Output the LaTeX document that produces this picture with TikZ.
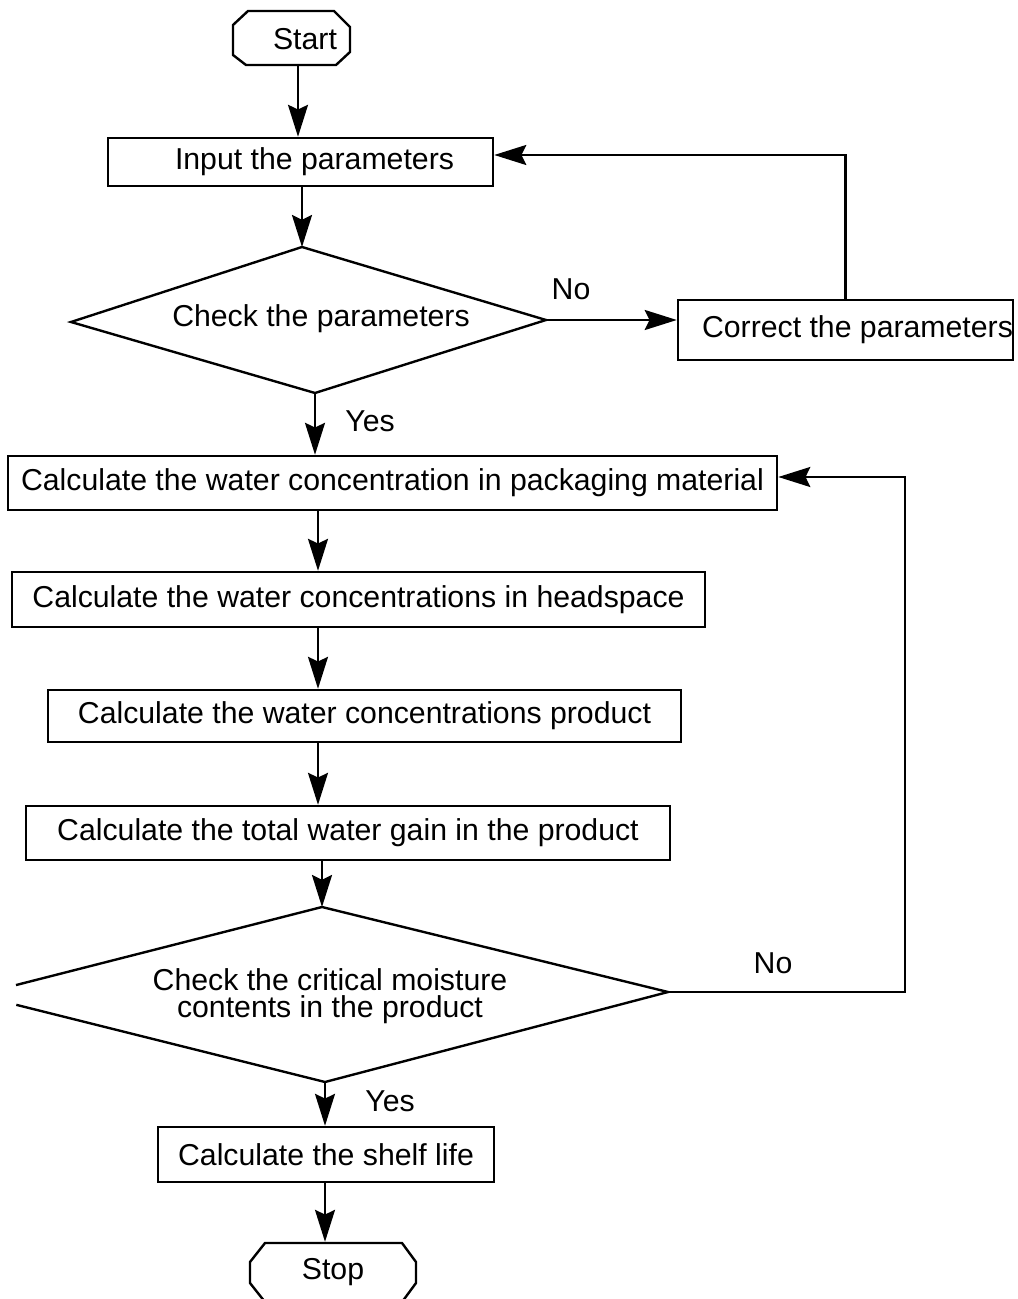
\documentclass[tikz,border=0pt]{standalone}
\usepackage{fontspec}
\setmainfont{Liberation Sans}
\usetikzlibrary{arrows.meta,calc}
\begin{document}
\begin{tikzpicture}[x=0.025cm,y=-0.025cm, line width=1.7pt, line join=miter,
  >={Stealth[length=0.8cm,width=0.5cm,inset=0.12cm]},
  box/.style={draw,rectangle,inner sep=0pt},
  txt/.style={font=\fontsize{21.5}{19}\selectfont},
  lbl/.style={font=\fontsize{21.5}{22}\selectfont,inner sep=0pt}]
\useasboundingbox (0,0) rectangle (1017,1299);
% start
\draw (233,25) -- (248,11) -- (334,11) -- (350,27) -- (350,52) -- (336,65) -- (246,65) -- (233,55) -- cycle;
\node[minimum width=2.925cm,minimum height=1.35cm,inner sep=0pt] (start) at (291.5,38) {};
\node[txt,inner sep=0pt] (starttxt) at (305,39) {Start};
% input
\node[box,minimum width=9.625cm,minimum height=1.2cm,
  label={[txt,xshift=0.35cm]center:Input the parameters}] (inp) at (300.5,162) {};
% diamond 1
\coordinate (d1t) at (302,247);
\coordinate (d1r) at (546,320);
\coordinate (d1b) at (315,393);
\coordinate (d1l) at (71,322);
\draw (d1t) -- (d1r) -- (d1b) -- (d1l) -- cycle;
\node[txt,inner sep=0pt] (d1txt) at (321,319) {Check the parameters};
% correct
\node[box,minimum width=8.375cm,minimum height=1.5cm,
  label={[txt,xshift=0.3cm]center:Correct the parameters}] (cor) at (845.5,330) {};
% calc boxes
\node[box,txt,minimum width=19.225cm,minimum height=1.35cm] (c1) at (392.5,483) {Calculate the water concentration in packaging material};
\node[box,txt,minimum width=17.325cm,minimum height=1.375cm] (c2) at (358.5,599.5) {Calculate the water concentrations in headspace};
\node[box,txt,minimum width=15.825cm,minimum height=1.3cm] (c3) at (364.5,716) {Calculate the water concentrations product};
\node[box,txt,minimum width=16.1cm,minimum height=1.35cm] (c4) at (348,833) {Calculate the total water gain in the product};
% diamond 2
\coordinate (d2t) at (322,907);
\coordinate (d2r) at (668,992);
\coordinate (d2b) at (325,1082);
\coordinate (d2l) at (-23,995);
\draw ($(d2t)!0.887!(d2l)$) -- (d2t) -- (d2r) -- (d2b) -- ($(d2b)!0.887!(d2l)$);
\node[txt,inner sep=0pt,align=center] (d2txt) at (330,996) {Check the critical moisture\\contents in the product};
% shelf
\node[box,txt,minimum width=8.4cm,minimum height=1.375cm] (shelf) at (326,1154.5) {Calculate the shelf life};
% stop
\draw (265,1243) -- (402,1243) -- (416,1262) -- (416,1283) -- (402,1302) -- (265,1302) -- (250,1283) -- (250,1262) -- cycle;
\node[minimum width=4.15cm,minimum height=1.475cm,inner sep=0pt] (stop) at (333,1272.5) {};
\node[txt,inner sep=0pt] (stoptxt) at (333,1272) {Stop};
% columns
\coordinate (colS) at (298,0);
\coordinate (colI) at (302,0);
\coordinate (colA) at (318,0);
\coordinate (colB) at (322,0);
\coordinate (colC) at (325,0);
\coordinate (fbTop) at (0,155);
\coordinate (fbMid) at (0,477);
\coordinate (xR) at (905,0);
% connectors
\draw[->] (colS |- start.south) -- (colS |- inp.north);
\draw[->] (colI |- inp.south) -- (d1t);
\draw[->] (d1r) -- (d1r -| cor.west);
\draw[->] (cor.north) -- (cor.north |- fbTop) -- (inp.east |- fbTop);
\draw[->] (d1b) -- (d1b |- c1.north);
\draw[->] (colA |- c1.south) -- (colA |- c2.north);
\draw[->] (colA |- c2.south) -- (colA |- c3.north);
\draw[->] (colA |- c3.south) -- (colA |- c4.north);
\draw[->] (colB |- c4.south) -- (d2t);
\draw[->] (d2r) -- (d2r -| xR) -- (xR |- fbMid) -- (c1.east |- fbMid);
\draw[->] (d2b) -- (d2b |- shelf.north);
\draw[->] (colC |- shelf.south) -- (colC |- stop.north);
% labels
\node[lbl] (no1) at (571,289) {No};
\node[lbl] (yes1) at (370,421) {Yes};
\node[lbl] (no2) at (773,963) {No};
\node[lbl] (yes2) at (390,1101) {Yes};
\end{tikzpicture}
\end{document}
